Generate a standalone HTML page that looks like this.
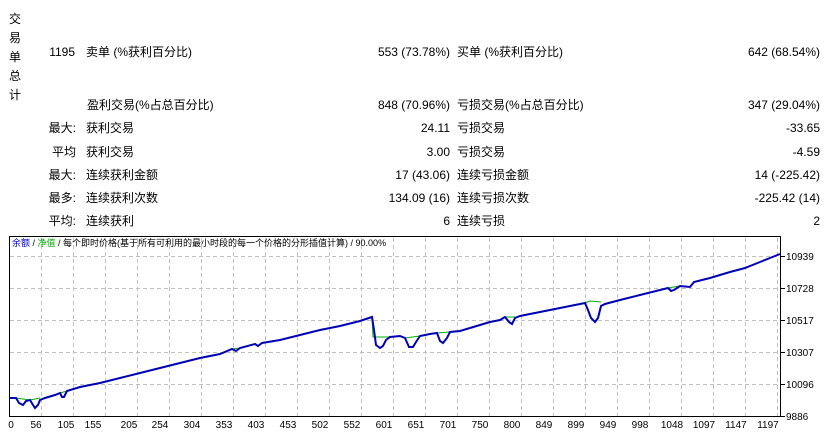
<!DOCTYPE html>
<html><head><meta charset="utf-8"><style>
body{margin:0;width:835px;height:435px;background:#fff;font-family:"Liberation Sans","Noto Sans CJK SC",sans-serif;font-size:12px;color:#000;position:relative;overflow:hidden}
.t{position:absolute;white-space:nowrap;line-height:14px}
.r{text-align:right}
</style></head><body>
<div class="t" style="left:9px;top:10px;width:14px;line-height:19px">交<br>易<br>单<br>总<br>计</div>
<div class="t r" style="left:30px;top:45px;width:45px">1195</div>
<div class="t" style="left:86px;top:45px">卖单 (%获利百分比)</div>
<div class="t r" style="left:250px;top:45px;width:200px">553 (73.78%)</div>
<div class="t" style="left:457px;top:45px">买单 (%获利百分比)</div>
<div class="t r" style="left:620px;top:45px;width:200px">642 (68.54%)</div>

<div class="t" style="left:87px;top:98px">盈利交易(%占总百分比)</div>
<div class="t r" style="left:250px;top:98px;width:200px">848 (70.96%)</div>
<div class="t" style="left:457px;top:98px">亏损交易(%占总百分比)</div>
<div class="t r" style="left:620px;top:98px;width:200px">347 (29.04%)</div>

<div class="t r" style="left:20px;top:121px;width:56px">最大:</div>
<div class="t" style="left:86px;top:121px">获利交易</div>
<div class="t r" style="left:250px;top:121px;width:200px">24.11</div>
<div class="t" style="left:457px;top:121px">亏损交易</div>
<div class="t r" style="left:620px;top:121px;width:200px">-33.65</div>

<div class="t r" style="left:20px;top:145px;width:56px">平均</div>
<div class="t" style="left:86px;top:145px">获利交易</div>
<div class="t r" style="left:250px;top:145px;width:200px">3.00</div>
<div class="t" style="left:457px;top:145px">亏损交易</div>
<div class="t r" style="left:620px;top:145px;width:200px">-4.59</div>

<div class="t r" style="left:20px;top:168px;width:56px">最大:</div>
<div class="t" style="left:86px;top:168px">连续获利金额</div>
<div class="t r" style="left:250px;top:168px;width:200px">17 (43.06)</div>
<div class="t" style="left:457px;top:168px">连续亏损金额</div>
<div class="t r" style="left:620px;top:168px;width:200px">14 (-225.42)</div>

<div class="t r" style="left:20px;top:191px;width:56px">最多:</div>
<div class="t" style="left:86px;top:191px">连续获利次数</div>
<div class="t r" style="left:250px;top:191px;width:200px">134.09 (16)</div>
<div class="t" style="left:457px;top:191px">连续亏损次数</div>
<div class="t r" style="left:620px;top:191px;width:200px">-225.42 (14)</div>

<div class="t r" style="left:20px;top:214px;width:56px">平均:</div>
<div class="t" style="left:86px;top:214px">连续获利</div>
<div class="t r" style="left:250px;top:214px;width:200px">6</div>
<div class="t" style="left:457px;top:214px">连续亏损</div>
<div class="t r" style="left:620px;top:214px;width:200px">2</div>

<svg style="position:absolute;left:0;top:0" width="835" height="435" font-family="Liberation Sans, Noto Sans CJK SC, sans-serif">
<g stroke="#c0c0c0" stroke-dasharray="4,3" stroke-width="1">
<line x1="10" x2="780" y1="256.5" y2="256.5"/><line x1="10" x2="780" y1="288.5" y2="288.5"/><line x1="10" x2="780" y1="320.5" y2="320.5"/><line x1="10" x2="780" y1="352.5" y2="352.5"/><line x1="10" x2="780" y1="384.5" y2="384.5"/>
<line x1="41.5" x2="41.5" y1="238" y2="416"/><line x1="73.5" x2="73.5" y1="238" y2="416"/><line x1="105.5" x2="105.5" y1="238" y2="416"/><line x1="137.5" x2="137.5" y1="238" y2="416"/><line x1="169.5" x2="169.5" y1="238" y2="416"/><line x1="201.5" x2="201.5" y1="238" y2="416"/><line x1="233.5" x2="233.5" y1="238" y2="416"/><line x1="265.5" x2="265.5" y1="238" y2="416"/><line x1="297.5" x2="297.5" y1="238" y2="416"/><line x1="329.5" x2="329.5" y1="238" y2="416"/><line x1="361.5" x2="361.5" y1="238" y2="416"/><line x1="393.5" x2="393.5" y1="238" y2="416"/><line x1="425.5" x2="425.5" y1="238" y2="416"/><line x1="457.5" x2="457.5" y1="238" y2="416"/><line x1="489.5" x2="489.5" y1="238" y2="416"/><line x1="521.5" x2="521.5" y1="238" y2="416"/><line x1="553.5" x2="553.5" y1="238" y2="416"/><line x1="585.5" x2="585.5" y1="238" y2="416"/><line x1="617.5" x2="617.5" y1="238" y2="416"/><line x1="649.5" x2="649.5" y1="238" y2="416"/><line x1="681.5" x2="681.5" y1="238" y2="416"/><line x1="713.5" x2="713.5" y1="238" y2="416"/><line x1="745.5" x2="745.5" y1="238" y2="416"/><line x1="777.5" x2="777.5" y1="238" y2="416"/>
</g>
<rect x="9.5" y="236.5" width="771" height="180" fill="none" stroke="#000"/>
<g stroke="#000"><line x1="781" x2="785" y1="256.5" y2="256.5"/><line x1="781" x2="785" y1="288.5" y2="288.5"/><line x1="781" x2="785" y1="320.5" y2="320.5"/><line x1="781" x2="785" y1="352.5" y2="352.5"/><line x1="781" x2="785" y1="384.5" y2="384.5"/><line x1="781" x2="785" y1="416.5" y2="416.5"/></g>
<text font-size="9" y="246" x="12"><tspan fill="#0000c8">余额</tspan> / <tspan fill="#00b000">净值</tspan> / 每个即时价格(基于所有可利用的最小时段的每一个价格的分形插值计算) / 90.00%</text>
<g fill="none" stroke="#00b000" stroke-width="1">
<polyline points="16,398 30,400 40,398"/>
<polyline points="60,393 67,391"/>
<polyline points="232,349 240,348"/>
<polyline points="372,317 373,337 390,337"/>
<polyline points="405,338 420,336"/>
<polyline points="437,333 450,332"/>
<polyline points="505,317 515,317"/>
<polyline points="585,303 590,301 601,302"/>
<polyline points="668,288 674,287 680,286"/>
<polyline points="690,287 694,282"/>
</g>
<polyline fill="none" stroke="#0000b4" stroke-width="2" points="10,398 16,398 19,403 23,405 26,401 30,400 33,405 35,408 38,405 40,400 45,398 55,395 60,393 62,397 64,397 67,391 80,387 100,383 120,378 140,373 160,368 180,363 200,358 220,354 232,349 236,351 240,348 255,344 258,346 262,343 280,340 300,335 320,330 340,326 360,321 372,317 374,330 376,345 380,348 383,346 386,340 390,337 400,336 405,338 409,347 413,347 416,342 420,336 430,334 437,333 440,341 443,343 447,338 450,332 460,331 470,328 480,325 490,322 500,320 505,317 509,322 512,324 515,318 520,316 540,312 560,308 575,305 585,303 588,310 591,318 595,322 598,318 601,306 605,304 620,300 640,295 660,290 668,288 671,291 674,290 680,286 690,287 694,282 710,278 730,272 745,268 760,262 770,258 780,254"/>
<g font-size="10" fill="#000">
<text x="786" y="260">10939</text><text x="786" y="292">10728</text><text x="786" y="324">10517</text><text x="786" y="356">10307</text><text x="786" y="388">10096</text><text x="786" y="420">9886</text>
</g>
<g font-size="10" fill="#000" text-anchor="middle">
<text x="11" y="428">0</text><text x="36" y="428">56</text><text x="66" y="428">105</text><text x="93" y="428">155</text><text x="129" y="428">205</text><text x="160" y="428">254</text><text x="192" y="428">304</text><text x="224" y="428">353</text><text x="256" y="428">403</text><text x="288" y="428">453</text><text x="320" y="428">502</text><text x="352" y="428">552</text><text x="384" y="428">601</text><text x="416" y="428">651</text><text x="448" y="428">701</text><text x="480" y="428">750</text><text x="512" y="428">800</text><text x="544" y="428">849</text><text x="576" y="428">899</text><text x="608" y="428">949</text><text x="640" y="428">998</text><text x="672" y="428">1048</text><text x="704" y="428">1097</text><text x="736" y="428">1147</text><text x="768" y="428">1197</text>
</g>
</svg>
</body></html>
